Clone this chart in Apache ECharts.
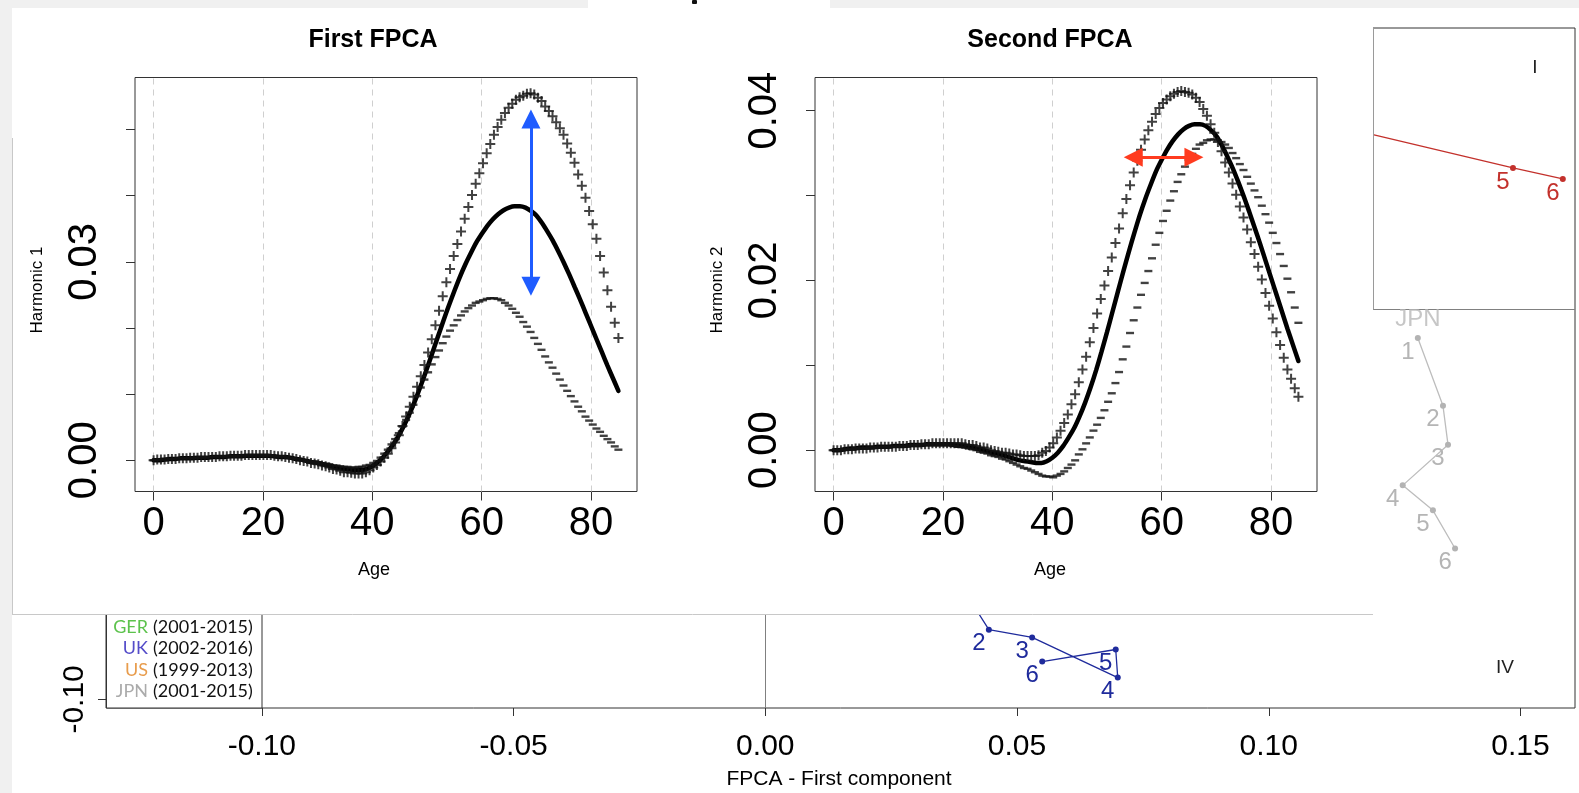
<!DOCTYPE html>
<html>
<head>
<meta charset="utf-8">
<script src="https://cdn.jsdelivr.net/npm/echarts@6/dist/echarts.min.js"></script>
<style>
html,body{margin:0;padding:0;background:#fff;}
#c{width:1579px;height:793px;}
</style>
</head>
<body>
<div id="c"></div>
<script>
// ---------- FPCA panels: ages and curves ----------
const AGES = [0,0.67,1.34,2.01,2.68,3.35,4.02,4.69,5.35,6.02,
6.69,7.36,8.03,8.70,9.37,10.04,10.71,11.38,12.05,12.72,
13.39,14.06,14.72,15.39,16.06,16.73,17.40,18.07,18.74,19.41,
20.08,20.75,21.42,22.09,22.76,23.43,24.09,24.76,25.43,26.10,
26.77,27.44,28.11,28.78,29.45,30.12,30.79,31.46,32.13,32.80,
33.46,34.13,34.80,35.47,36.14,36.81,37.48,38.15,38.82,39.49,
40.16,40.83,41.50,42.17,42.83,43.50,44.17,44.84,45.51,46.18,
46.85,47.52,48.19,48.86,49.53,50.20,50.87,51.54,52.20,52.87,
53.54,54.21,54.88,55.55,56.22,56.89,57.56,58.23,58.90,59.57,
60.24,60.91,61.57,62.24,62.91,63.58,64.25,64.92,65.59,66.26,
66.93,67.60,68.27,68.94,69.61,70.28,70.94,71.61,72.28,72.95,
73.62,74.29,74.96,75.63,76.30,76.97,77.64,78.31,78.98,79.65,
80.31,80.98,81.65,82.32,82.99,83.66,84.33,85];

const H1_PLUS = [0,0.0001,0.0001,0.0001,0.0002,0.0002,0.0002,0.0003,0.0003,0.0003,
0.0004,0.0004,0.0004,0.0005,0.0005,0.0005,0.0005,0.0005,0.0006,0.0006,
0.0006,0.0007,0.0007,0.0007,0.0007,0.0008,0.0008,0.0008,0.0008,0.0008,
0.0008,0.0008,0.0008,0.0007,0.0006,0.0006,0.0005,0.0004,0.0003,0.0002,
0.0000,-0.0001,-0.0002,-0.0004,-0.0005,-0.0006,-0.0008,-0.0009,-0.0011,-0.0013,
-0.0014,-0.0016,-0.0018,-0.0018,-0.0019,-0.0020,-0.0020,-0.0020,-0.0018,-0.0015,
-0.0011,-0.0007,-0.0002,0.0004,0.0010,0.0018,0.0027,0.0038,0.0052,0.0066,
0.0081,0.0096,0.0111,0.0127,0.0144,0.0163,0.0183,0.0204,0.0226,0.0248,
0.0269,0.0289,0.0309,0.0327,0.0346,0.0365,0.0383,0.0401,0.0418,0.0434,
0.0449,0.0464,0.0478,0.0492,0.0504,0.0515,0.0525,0.0533,0.0539,0.0545,
0.0549,0.0551,0.0554,0.0555,0.0553,0.0548,0.0543,0.0535,0.0528,0.0520,
0.0511,0.0502,0.0492,0.0479,0.0465,0.0450,0.0432,0.0415,0.0397,0.0377,
0.0357,0.0335,0.0309,0.0284,0.0257,0.0232,0.0208,0.0185];

const H1_MINUS = [0,0.0001,0.0001,0.0001,0.0002,0.0002,0.0002,0.0003,0.0003,0.0003,
0.0003,0.0003,0.0004,0.0004,0.0004,0.0004,0.0005,0.0005,0.0005,0.0005,
0.0005,0.0006,0.0006,0.0006,0.0006,0.0007,0.0007,0.0007,0.0007,0.0007,
0.0007,0.0007,0.0007,0.0006,0.0006,0.0006,0.0005,0.0004,0.0003,0.0002,
0.0001,0.0000,-0.0001,-0.0002,-0.0002,-0.0003,-0.0005,-0.0005,-0.0006,-0.0008,
-0.0008,-0.0009,-0.0010,-0.0010,-0.0011,-0.0011,-0.0010,-0.0010,-0.0008,-0.0007,
-0.0004,-0.0001,0.0004,0.0010,0.0016,0.0024,0.0032,0.0041,0.0051,0.0061,
0.0072,0.0084,0.0097,0.0110,0.0122,0.0133,0.0145,0.0156,0.0166,0.0177,
0.0187,0.0196,0.0204,0.0212,0.0219,0.0225,0.0230,0.0234,0.0238,0.0240,
0.0242,0.0244,0.0245,0.0245,0.0244,0.0242,0.0238,0.0234,0.0229,0.0223,
0.0217,0.0209,0.0202,0.0194,0.0185,0.0176,0.0167,0.0157,0.0148,0.0140,
0.0131,0.0122,0.0113,0.0105,0.0097,0.0089,0.0081,0.0074,0.0066,0.0060,
0.0054,0.0048,0.0043,0.0037,0.0032,0.0027,0.0021,0.0016];

const H2_PLUS = [0,0,0,0.0001,0.0001,0.0001,0.0002,0.0002,0.0002,0.0002,
0.0003,0.0003,0.0003,0.0004,0.0004,0.0004,0.0004,0.0004,0.0005,0.0005,
0.0005,0.0006,0.0006,0.0006,0.0007,0.0007,0.0007,0.0008,0.0008,0.0008,
0.0008,0.0008,0.0008,0.0008,0.0008,0.0008,0.0007,0.0006,0.0006,0.0005,
0.0003,0.0003,0.0002,0.0000,-0.0001,-0.0002,-0.0003,-0.0003,-0.0004,-0.0005,
-0.0005,-0.0006,-0.0007,-0.0007,-0.0007,-0.0007,-0.0006,-0.0003,-0.0001,0.0003,
0.0008,0.0015,0.0023,0.0032,0.0042,0.0054,0.0066,0.0080,0.0095,0.0110,
0.0127,0.0144,0.0161,0.0178,0.0194,0.0211,0.0227,0.0244,0.0261,0.0279,
0.0296,0.0312,0.0327,0.0341,0.0354,0.0366,0.0377,0.0387,0.0396,0.0403,
0.0409,0.0413,0.0417,0.0420,0.0422,0.0423,0.0422,0.0421,0.0419,0.0415,
0.0410,0.0402,0.0394,0.0384,0.0374,0.0363,0.0352,0.0339,0.0327,0.0314,
0.0301,0.0287,0.0274,0.0260,0.0245,0.0231,0.0216,0.0201,0.0185,0.0170,
0.0155,0.0139,0.0124,0.0109,0.0095,0.0084,0.0073,0.0063];

const H2_MINUS = [0,0,0,0.0001,0.0001,0.0001,0.0002,0.0002,0.0002,0.0002,
0.0003,0.0003,0.0003,0.0003,0.0003,0.0003,0.0004,0.0004,0.0004,0.0004,
0.0004,0.0005,0.0005,0.0005,0.0005,0.0006,0.0006,0.0006,0.0006,0.0006,
0.0006,0.0006,0.0006,0.0005,0.0004,0.0004,0.0003,0.0002,0.0001,0.0000,
-0.0002,-0.0003,-0.0004,-0.0006,-0.0007,-0.0008,-0.0010,-0.0011,-0.0013,-0.0015,
-0.0017,-0.0019,-0.0021,-0.0022,-0.0024,-0.0026,-0.0028,-0.0030,-0.0031,-0.0031,
-0.0032,-0.0030,-0.0028,-0.0025,-0.0021,-0.0017,-0.0012,-0.0005,0.0001,0.0008,
0.0015,0.0023,0.0030,0.0038,0.0047,0.0057,0.0067,0.0079,0.0092,0.0107,
0.0122,0.0138,0.0153,0.0168,0.0183,0.0197,0.0211,0.0226,0.0242,0.0256,
0.0270,0.0282,0.0294,0.0305,0.0316,0.0325,0.0334,0.0342,0.0349,0.0355,
0.0360,0.0362,0.0365,0.0366,0.0366,0.0365,0.0363,0.0360,0.0356,0.0350,
0.0344,0.0337,0.0330,0.0322,0.0314,0.0306,0.0298,0.0288,0.0278,0.0268,
0.0256,0.0244,0.0231,0.0217,0.0202,0.0186,0.0168,0.0150];

const MEAN_AGES = [0,1,2,3,4,5,6,7,8,9,10,11,12,13,14,15,16,17,18,19,20,21,22,23,24,25,26,27,28,29,
30,31,32,33,34,35,36,37,38,39,40,41,42,43,44,45,46,47,48,49,50,51,52,53,54,55,56,57,58,59,
60,61,62,63,64,65,66,67,68,69,70,71,72,73,74,75,76,77,78,79,80,81,82,83,84,85];
const MEAN = [0,0.0000,0.0001,0.0002,0.0002,0.0003,0.0003,0.0003,0.0004,0.0004,
0.0004,0.0005,0.0005,0.0005,0.0006,0.0006,0.0006,0.0007,0.0007,0.0007,
0.0007,0.0007,0.0006,0.0005,0.0005,0.0004,0.0002,0.0001,-0.0001,-0.0003,
-0.0004,-0.0006,-0.0008,-0.0010,-0.0012,-0.0013,-0.0014,-0.0015,-0.0015,-0.0013,
-0.0009,-0.0003,0.0005,0.0015,0.0026,0.0040,0.0056,0.0074,0.0094,0.0116,
0.0139,0.0163,0.0187,0.0211,0.0234,0.0256,0.0277,0.0296,0.0313,0.0329,
0.0342,0.0354,0.0364,0.0372,0.0378,0.0382,0.0384,0.0384,0.0382,0.0377,
0.0370,0.0359,0.0346,0.0332,0.0316,0.0299,0.0281,0.0262,0.0243,0.0223,
0.0203,0.0183,0.0163,0.0143,0.0124,0.0105];

// arrows (age, value) endpoints
const ARROW1 = [[69, 0.0516], [69, 0.0263]];
const ARROW2 = [[54.8, 0.0345], [65.9, 0.0345]];

// ticks
const F_XTICKS = [0, 20, 40, 60, 80];
const F1_YTICKS = [0, 0.01, 0.02, 0.03, 0.04, 0.05];
const F1_YLABELS = [0, 0.03];
const F2_YTICKS = [0, 0.01, 0.02, 0.03, 0.04];
const F2_YLABELS = [0, 0.02, 0.04];

// ---------- background scatter (FPCA scores) ----------
const UK_X = [0.0391, 0.0444, 0.0530, 0.0700, 0.0696, 0.0550];
const UK_Y = [-0.0713, -0.0821, -0.0841, -0.0944, -0.0872, -0.0903];
const UK_LBL = ['1','2','3','4','5','6'];
const JPN_X = [0.1296, 0.1346, 0.1356, 0.1266, 0.1326, 0.1370];
const JPN_Y = [-0.0073, -0.0247, -0.0347, -0.0451, -0.0515, -0.0613];
const JPN_LBL = ['1','2','3','4','5','6'];
const RED_X = [0.1000, 0.1485, 0.1584];
const RED_Y = [0.0512, 0.0363, 0.0335];
const RED_LBL = ['4','5','6'];
const SC_XTICKS = [-0.10, -0.05, 0, 0.05, 0.10, 0.15];
const SC_YTICKS = [-0.10, -0.05, 0, 0.05];

const LEGEND_CODES = ['GER', 'UK', 'US', 'JPN'];
const LEGEND_YEARS = ['(2001-2015)', '(2002-2016)', '(1999-2013)', '(2001-2015)'];
const LEGEND_COLORS = ['#5cc24c', '#544cc9', '#e89c4c', '#ababab'];

// ---------- build ----------
const FONT = '"Liberation Sans", Arial, Helvetica, sans-serif';
const pairs = (xs, ys) => xs.map((x, i) => [x, ys[i]]);
const PLUS_SYM = 'path://M4,0H6V4H10V6H6V10H4V6H0V4H4Z';

const chart = echarts.init(document.getElementById('c'), null, {renderer: 'canvas'});

function fpcaX(gi) {
  return {
    gridIndex: gi, type: 'value', min: -3.4, max: 88.4, z: 60,
    axisLine: {show: false, onZero: false}, splitLine: {show: false},
    axisTick: {customValues: F_XTICKS, length: 9, lineStyle: {color: '#333', width: 1}},
    axisLabel: {customValues: F_XTICKS, fontSize: 40, margin: 12, color: '#000', fontFamily: FONT}
  };
}
function fpcaY(gi, min, max, ticks, labels) {
  return {
    gridIndex: gi, type: 'value', min: min, max: max, z: 60,
    axisLine: {show: false, onZero: false}, splitLine: {show: false},
    axisTick: {customValues: ticks, length: 9, lineStyle: {color: '#333', width: 1}},
    axisLabel: {customValues: labels, rotate: 90, fontSize: 40, margin: 30, color: '#000',
      fontFamily: FONT, formatter: v => v.toFixed(2)}
  };
}
function gridLines() {
  return {
    silent: true, symbol: 'none', z: 61, animation: false,
    label: {show: false},
    lineStyle: {type: [6, 5], color: '#cfcfcf', width: 1},
    data: F_XTICKS.map(a => ({xAxis: a}))
  };
}
function arrow(pts, color) {
  return {
    silent: true, symbol: ['triangle', 'triangle'], symbolSize: 19, z: 66, animation: false,
    label: {show: false},
    lineStyle: {type: 'solid', color: color, width: 3},
    itemStyle: {color: color},
    data: [[{coord: pts[0]}, {coord: pts[1]}]]
  };
}
function numLabel(lbls, color) {
  return {
    show: true, position: 'inside', offset: [-10, 14], fontSize: 24,
    fontFamily: FONT, color: color, formatter: p => lbls[p.dataIndex]
  };
}

const txt = (x, y, text, size, opts = {}) => Object.assign({
  type: 'text', x: x, y: y, z: opts.z || 80, rotation: opts.rotation || 0,
  style: {
    text: text, fill: opts.color || '#000',
    font: (opts.weight || 'normal') + ' ' + size + 'px ' + (opts.family || FONT),
    textAlign: opts.align || 'center', textVerticalAlign: 'middle',
    align: opts.align || 'center', verticalAlign: 'middle'
  }
});

const graphics = [
  // overlay panel holding the FPCA plots
  {type: 'rect', shape: {x: 12, y: 8, width: 1361, height: 606}, style: {fill: '#fff'}, z: 50},
  {type: 'line', shape: {x1: 12.5, y1: 138, x2: 12.5, y2: 614}, style: {stroke: '#c8c8c8', lineWidth: 1}, z: 51},
  {type: 'line', shape: {x1: 12, y1: 614.5, x2: 1373, y2: 614.5}, style: {stroke: '#c8c8c8', lineWidth: 1}, z: 51},
  {type: 'line', shape: {x1: 1373.5, y1: 28, x2: 1373.5, y2: 309.5}, style: {stroke: '#9a9a9a', lineWidth: 1}, z: 51},
  // outer grey margins
  {type: 'rect', shape: {x: 0, y: 0, width: 1579, height: 8}, style: {fill: '#f0f0f0'}, z: 100},
  {type: 'rect', shape: {x: 588, y: 0, width: 242, height: 8}, style: {fill: '#ffffff'}, z: 101},
  {type: 'rect', shape: {x: 0, y: 0, width: 12, height: 793}, style: {fill: '#f0f0f0'}, z: 100},
  {type: 'rect', shape: {x: 692, y: 0, width: 5, height: 4, r: 1}, style: {fill: '#111'}, z: 102},
  // titles and axis names of FPCA panels
  txt(373, 40, 'First FPCA', 25, {weight: 'bold'}),
  txt(1050, 40, 'Second FPCA', 25, {weight: 'bold'}),
  txt(374, 570, 'Age', 18),
  txt(1050, 570, 'Age', 18),
  txt(37, 290, 'Harmonic 1', 17, {rotation: Math.PI / 2}),
  txt(717, 290, 'Harmonic 2', 17, {rotation: Math.PI / 2}),
  // scatter annotations
  txt(839, 779, 'FPCA - First component', 21),
  txt(1535, 68, 'I', 19, {z: 5, color: '#222'}),
  txt(1505, 668, 'IV', 19, {z: 5, color: '#222'}),
  // legend box
  {type: 'rect', shape: {x: 106.5, y: 540, width: 155.5, height: 168}, style: {fill: '#fff', stroke: '#333', lineWidth: 1}, z: 4}
];
const LEG_ROW_Y = [627, 648.5, 670, 691.5];
LEGEND_CODES.forEach((c, i) => {
  graphics.push(txt(148, LEG_ROW_Y[i], c, 18, {align: 'right', family: 'Lato, sans-serif', color: LEGEND_COLORS[i], z: 5}));
  graphics.push(txt(153, LEG_ROW_Y[i], LEGEND_YEARS[i], 18, {align: 'left', family: 'Lato, sans-serif', color: '#111', z: 5}));
});

const option = {
  animation: false,
  backgroundColor: '#fff',
  grid: [
    {left: 106, top: 28, width: 1469, height: 680, show: true, borderColor: '#333', borderWidth: 1, backgroundColor: 'transparent', z: 0},
    {left: 135, top: 77.5, width: 502, height: 414, show: true, borderColor: '#333', borderWidth: 1, backgroundColor: 'transparent', z: 60},
    {left: 815, top: 77.5, width: 502, height: 414, show: true, borderColor: '#333', borderWidth: 1, backgroundColor: 'transparent', z: 60}
  ],
  xAxis: [
    {gridIndex: 0, type: 'value', min: -0.13095, max: 0.16082,
      axisLine: {show: false, onZero: false}, splitLine: {show: false},
      axisTick: {customValues: SC_XTICKS, length: 8, lineStyle: {color: '#333'}},
      axisLabel: {customValues: SC_XTICKS, formatter: v => v.toFixed(2), fontSize: 30, margin: 24, color: '#000', fontFamily: FONT}},
    fpcaX(1), fpcaX(2)
  ],
  yAxis: [
    {gridIndex: 0, type: 'value', min: -0.1022, max: 0.0722,
      axisLine: {show: false, onZero: false}, splitLine: {show: false},
      axisTick: {customValues: SC_YTICKS, length: 8, lineStyle: {color: '#333'}},
      axisLabel: {customValues: SC_YTICKS, rotate: 90, formatter: v => v.toFixed(2), fontSize: 30, margin: 16, color: '#000', fontFamily: FONT}},
    fpcaY(1, -0.00472, 0.05787, F1_YTICKS, F1_YLABELS),
    fpcaY(2, -0.00487, 0.0439, F2_YTICKS, F2_YLABELS)
  ],
  series: [
    // background scatter paths
    {name: 'UK', type: 'line', xAxisIndex: 0, yAxisIndex: 0, z: 3, data: pairs(UK_X, UK_Y),
      symbol: 'circle', symbolSize: 6, showAllSymbol: true,
      lineStyle: {color: '#1f2b9c', width: 1.3}, itemStyle: {color: '#1f2b9c'},
      label: numLabel(UK_LBL, '#1f2b9c'),
      markLine: {silent: true, symbol: 'none', z: 2, label: {show: false}, animation: false,
        lineStyle: {type: 'solid', color: '#808080', width: 1},
        data: [{xAxis: 0}, {yAxis: 0}]}},
    {name: 'JPN', type: 'line', xAxisIndex: 0, yAxisIndex: 0, z: 3, data: pairs(JPN_X, JPN_Y),
      symbol: 'circle', symbolSize: 6, showAllSymbol: true,
      lineStyle: {color: '#bdbdbd', width: 1.3}, itemStyle: {color: '#b3b3b3'},
      label: numLabel(JPN_LBL, '#b5b5b5')},
    {name: 'JPN name', type: 'scatter', xAxisIndex: 0, yAxisIndex: 0, z: 3,
      data: [[JPN_X[0], JPN_Y[0]]], symbolSize: 1, itemStyle: {color: 'rgba(0,0,0,0)'},
      label: {show: true, position: 'inside', offset: [0, -19], fontSize: 24, fontFamily: FONT, color: '#b8b8b8', formatter: 'JPN'}},
    {name: 'red path', type: 'line', xAxisIndex: 0, yAxisIndex: 0, z: 3, data: pairs(RED_X, RED_Y),
      symbol: 'circle', symbolSize: 6, showAllSymbol: true,
      lineStyle: {color: '#c3312c', width: 1.3}, itemStyle: {color: '#c3312c'},
      label: numLabel(RED_LBL, '#c3312c')},

    // First FPCA
    {name: 'mean 1', type: 'line', xAxisIndex: 1, yAxisIndex: 1, z: 62, data: pairs(MEAN_AGES, MEAN),
      showSymbol: false, smooth: 0.2, lineStyle: {color: '#000', width: 4.5, cap: 'round'},
      markLine: gridLines()},
    {name: 'minus 1', type: 'scatter', xAxisIndex: 1, yAxisIndex: 1, z: 63, data: pairs(AGES, H1_MINUS),
      symbol: 'rect', symbolSize: [8, 2.4], itemStyle: {color: '#111'}},
    {name: 'plus 1', type: 'scatter', xAxisIndex: 1, yAxisIndex: 1, z: 64, data: pairs(AGES, H1_PLUS),
      symbol: PLUS_SYM, symbolSize: 10, itemStyle: {color: '#111'},
      markLine: arrow(ARROW1, '#1f5cff')},

    // Second FPCA
    {name: 'mean 2', type: 'line', xAxisIndex: 2, yAxisIndex: 2, z: 62, data: pairs(MEAN_AGES, MEAN),
      showSymbol: false, smooth: 0.2, lineStyle: {color: '#000', width: 4.5, cap: 'round'},
      markLine: gridLines()},
    {name: 'minus 2', type: 'scatter', xAxisIndex: 2, yAxisIndex: 2, z: 63, data: pairs(AGES, H2_MINUS),
      symbol: 'rect', symbolSize: [8, 2.4], itemStyle: {color: '#111'}},
    {name: 'plus 2', type: 'scatter', xAxisIndex: 2, yAxisIndex: 2, z: 64, data: pairs(AGES, H2_PLUS),
      symbol: PLUS_SYM, symbolSize: 10, itemStyle: {color: '#111'},
      markLine: arrow(ARROW2, '#ff3b1f')}
  ],
  graphic: {elements: graphics}
};
chart.setOption(option);
</script>
</body>
</html>
